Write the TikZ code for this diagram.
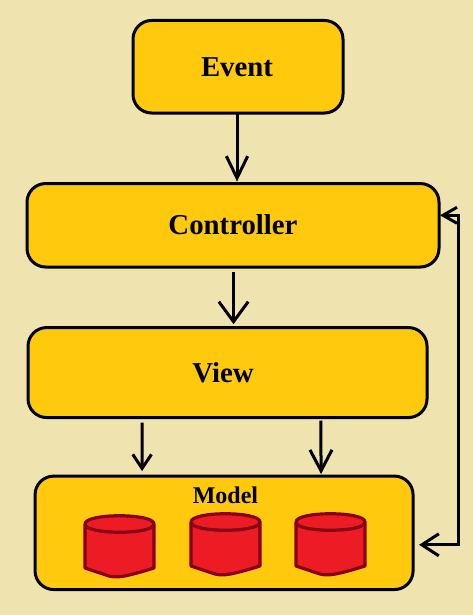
\documentclass[tikz,border=0pt]{standalone}
\usepackage{fontspec}
\setmainfont{Liberation Serif}
\usetikzlibrary{arrows.meta, positioning}
\definecolor{mvcSand}{HTML}{EFE4B0}
\definecolor{mvcGold}{HTML}{FFC90E}
\definecolor{mvcRed}{HTML}{ED1C24}
\definecolor{mvcDark}{HTML}{880015}

\begin{document}
\begin{tikzpicture}[
  x=0.75pt, y=-0.75pt,
  mvcbox/.style={
    rectangle, rounded corners=14pt, draw=black, fill=mvcGold,
    line width=2.25pt, outer sep=0pt, inner sep=0pt,
    font=\fontsize{21.6pt}{26pt}\selectfont\bfseries,
  },
  flow/.style={line width=2.25pt, black},
  drum/.style={draw=mvcDark, fill=mvcRed, line width=2.4pt, line join=round},
]

\fill[mvcSand] (0,0) rectangle (473,615);
\useasboundingbox (0,0) rectangle (473,615);

% Boxes
\node[mvcbox, minimum width=157.5pt, minimum height=69.4pt] (event) at (238,66.75) {Event\hspace*{1.5pt}};
\node[mvcbox, minimum width=309pt, minimum height=62.6pt, below=52.9pt of event, xshift=-3.75pt] (controller) {\raisebox{1.2pt}{Controller}};
\node[mvcbox, minimum width=299.25pt, minimum height=67.5pt, below=45.4pt of controller, xshift=-4.1pt] (view) {View\hspace*{6.75pt}};
\node[mvcbox, minimum width=283.5pt, minimum height=85.1pt, below=43.9pt of view, xshift=-2.6pt] (model) {};
\node[anchor=base, font=\fontsize{18pt}{22pt}\selectfont\bfseries, inner sep=0pt] (modelTitle) at (225.5,503) {Model};

% Drums
\foreach \dx/\dy in {85/516, 191/514, 296/514} {
  \draw[drum] (\dx,\dy+8) -- (\dx,\dy+52) -- (\dx+24,\dy+60) .. controls (\dx+32,\dy+62) and (\dx+40,\dy+61) .. (\dx+69,\dy+52) -- (\dx+69,\dy+8)
    .. controls (\dx+69,\dy-3) and (\dx,\dy-3) .. (\dx,\dy+8) .. controls (\dx,\dy+19) and (\dx+69,\dy+19) .. (\dx+69,\dy+8);
}

% Arrows
\draw[flow, -{Straight Barb[length=16.5pt, width=16pt]}] ([xshift=-0.75pt]event.south) -- ([xshift=3pt,yshift=1.5pt]controller.north);
\draw[flow, -{Straight Barb[length=15pt, width=22pt]}] ([xshift=0.4pt,yshift=-3.75pt]controller.south) -- ([xshift=4.5pt,yshift=2.5pt]view.north);
\draw[flow, -{Straight Barb[length=10.5pt, width=14pt]}] ([xshift=-64pt,yshift=-3.75pt]view.south) -- ([xshift=-61.5pt,yshift=3.75pt]model.north);
\draw[flow, -{Straight Barb[length=15.75pt, width=16.5pt]}] ([xshift=70pt,yshift=-2.25pt]view.south) -- ([xshift=72.75pt,yshift=1.5pt]model.north);
\draw[flow, {Straight Barb[length=12.75pt, width=16.5pt]}-{Straight Barb[length=10.5pt, width=12pt]}]
  ([xshift=4.5pt,yshift=-9pt]model.east) -- ++(29.25pt,0) |- ([xshift=0.75pt,yshift=7.5pt]controller.east);

\end{tikzpicture}
\end{document}
